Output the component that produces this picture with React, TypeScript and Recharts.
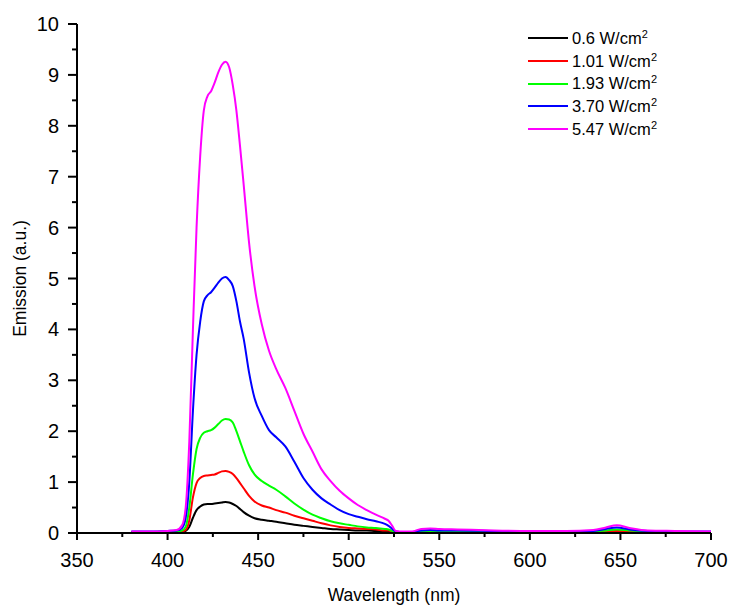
import { LineChart, Line, XAxis, YAxis, Legend } from "recharts";

const wavelengths = [
  380, 390, 400, 405, 408, 410, 412, 414, 416, 418, 420, 422, 424, 426, 428, 430, 432, 434, 436, 438,
  440, 442, 445, 448, 452, 456, 460, 465, 470, 475, 480, 485, 490, 495, 500, 505, 510, 515, 520, 522,
  524, 526, 528, 535, 540, 545, 550, 560, 580, 600, 620, 635, 642, 648, 655, 665, 680, 700,
];

const p060 = [
  0.01, 0.01, 0.02, 0.02, 0.02, 0.04, 0.12, 0.3, 0.45, 0.52, 0.56, 0.57, 0.57, 0.58, 0.59, 0.6, 0.61, 0.6, 0.57, 0.53,
  0.47, 0.41, 0.34, 0.29, 0.26, 0.24, 0.22, 0.19, 0.16, 0.14, 0.12, 0.1, 0.08, 0.07, 0.06, 0.05, 0.05, 0.04, 0.04, 0.03,
  0.02, 0.01, 0.01, 0.01, 0.02, 0.02, 0.02, 0.02, 0.01, 0.01, 0.01, 0.01, 0.02, 0.03, 0.02, 0.01, 0.01, 0.01,
];
const p101 = [
  0.02, 0.02, 0.02, 0.02, 0.03, 0.06, 0.25, 0.7, 0.98, 1.08, 1.12, 1.13, 1.14, 1.15, 1.18, 1.21, 1.22, 1.2, 1.16, 1.08,
  0.98, 0.88, 0.73, 0.62, 0.54, 0.5, 0.45, 0.4, 0.34, 0.29, 0.24, 0.19, 0.15, 0.12, 0.1, 0.09, 0.08, 0.07, 0.05, 0.05,
  0.03, 0.02, 0.02, 0.02, 0.02, 0.03, 0.02, 0.02, 0.02, 0.02, 0.02, 0.02, 0.03, 0.04, 0.03, 0.02, 0.02, 0.02,
];
const p193 = [
  0.02, 0.02, 0.03, 0.03, 0.05, 0.12, 0.5, 1.15, 1.65, 1.87, 1.97, 2.0, 2.02, 2.07, 2.14, 2.21, 2.24, 2.23, 2.17, 2.0,
  1.8, 1.6, 1.33, 1.15, 1.02, 0.93, 0.85, 0.72, 0.58, 0.46, 0.36, 0.29, 0.23, 0.19, 0.16, 0.13, 0.11, 0.1, 0.08, 0.07,
  0.04, 0.02, 0.02, 0.02, 0.03, 0.04, 0.03, 0.03, 0.03, 0.02, 0.02, 0.03, 0.05, 0.07, 0.05, 0.03, 0.02, 0.02,
];
const p370 = [
  0.03, 0.03, 0.04, 0.05, 0.1, 0.3, 1.0, 2.4, 3.5, 4.15, 4.55, 4.67, 4.73, 4.82, 4.92, 5.0, 5.03, 4.97, 4.85, 4.55,
  4.15, 3.82, 3.15, 2.65, 2.3, 2.02, 1.88, 1.7, 1.4, 1.08, 0.85, 0.68, 0.56, 0.45, 0.37, 0.32, 0.27, 0.23, 0.18, 0.14,
  0.08, 0.03, 0.02, 0.02, 0.05, 0.06, 0.05, 0.05, 0.04, 0.03, 0.03, 0.04, 0.08, 0.11, 0.07, 0.04, 0.03, 0.03,
];
const p547 = [
  0.03, 0.03, 0.04, 0.06, 0.15, 0.5, 1.8, 4.0, 6.0, 7.4, 8.3, 8.58, 8.68, 8.85, 9.05, 9.2, 9.26, 9.15, 8.8, 8.3,
  7.6, 6.85, 5.7, 4.85, 4.1, 3.58, 3.22, 2.85, 2.4, 1.95, 1.6, 1.25, 1.02, 0.83, 0.68, 0.55, 0.45, 0.36, 0.28, 0.24,
  0.14, 0.04, 0.03, 0.03, 0.08, 0.09, 0.08, 0.07, 0.05, 0.04, 0.04, 0.06, 0.11, 0.15, 0.1, 0.05, 0.04, 0.03,
];

const seriesLabels = ["0.6", "1.01", "1.93", "3.70", "5.47"];
const seriesColors = ["#000000", "#ff0000", "#00ff00", "#0000ff", "#ff00ff"];
const seriesValues = [p060, p101, p193, p370, p547];

const xTicks = [350, 375, 400, 425, 450, 475, 500, 525, 550, 575, 600, 625, 650, 675, 700];
const yTicks = [0, 0.5, 1, 1.5, 2, 2.5, 3, 3.5, 4, 4.5, 5, 5.5, 6, 6.5, 7, 7.5, 8, 8.5, 9, 9.5, 10];

const data = wavelengths.map((w, i) => {
  const row: Record<string, number> = { w };
  seriesLabels.forEach((s, k) => {
    row[s] = seriesValues[k][i];
  });
  return row;
});

const font = "'Liberation Sans', Arial, sans-serif";

function XTick(props: any) {
  const { x, y, payload } = props;
  const major = payload.value % 50 === 0;
  return (
    <g>
      <line x1={x} x2={x} y1={y} y2={y + (major ? 7 : 4)} stroke="#000" strokeWidth={2} />
      {major && (
        <text x={x} y={y + 34} textAnchor="middle" fontSize={20} fontFamily={font} fill="#000">
          {payload.value}
        </text>
      )}
    </g>
  );
}

function YTick(props: any) {
  const { x, y, payload } = props;
  const major = payload.value % 1 === 0;
  return (
    <g>
      <line x1={x} x2={x - (major ? 9 : 5)} y1={y} y2={y} stroke="#000" strokeWidth={2} />
      {major && (
        <text x={x - 18} y={y + 7} textAnchor="end" fontSize={20} fontFamily={font} fill="#000">
          {payload.value}
        </text>
      )}
    </g>
  );
}

function LegendBox() {
  return (
    <div style={{ fontFamily: font, fontSize: 16.5, color: "#000" }}>
      {seriesLabels.map((s, k) => (
        <div key={s} style={{ display: "flex", alignItems: "center", height: 22.7 }}>
          <svg width={40} height={4} style={{ marginRight: 4 }}>
            <line x1={0} x2={40} y1={2} y2={2} stroke={seriesColors[k]} strokeWidth={2} />
          </svg>
          <span>
            {s} W/cm<sup style={{ fontSize: 11, verticalAlign: "6px", lineHeight: 0 }}>2</sup>
          </span>
        </div>
      ))}
    </div>
  );
}

export default function App() {
  return (
    <div style={{ position: "absolute", left: 0, top: 0, width: 732, height: 606, background: "#fff" }}>
      <LineChart width={732} height={606} data={data} margin={{ top: 24, right: 21, bottom: 43, left: 17 }}>
        <XAxis
          dataKey="w"
          type="number"
          domain={[350, 700]}
          ticks={xTicks}
          interval={0}
          height={30}
          tickSize={0}
          tickMargin={0}
          tickLine={false}
          axisLine={{ stroke: "#000", strokeWidth: 2 }}
          tick={<XTick />}
          label={{
            value: "Wavelength (nm)",
            position: "bottom",
            offset: 26,
            style: { fontFamily: font, fontSize: 17.5, fill: "#000" },
          }}
        />
        <YAxis
          type="number"
          domain={[0, 10]}
          ticks={yTicks}
          interval={0}
          width={60}
          tickSize={0}
          tickMargin={0}
          tickLine={false}
          axisLine={{ stroke: "#000", strokeWidth: 2 }}
          tick={<YTick />}
          label={{
            value: "Emission (a.u.)",
            angle: -90,
            position: "insideLeft",
            offset: 3,
            style: { fontFamily: font, fontSize: 17.5, fill: "#000", textAnchor: "middle" },
          }}
        />
        <Legend
          layout="vertical"
          verticalAlign="middle"
          align="center"
          content={<LegendBox />}
          wrapperStyle={{ top: 27, left: 528, width: 200 }}
        />
        {seriesLabels.map((s, k) => (
          <Line
            key={s}
            dataKey={s}
            type="monotone"
            stroke={seriesColors[k]}
            strokeWidth={2}
            dot={false}
            isAnimationActive={false}
          />
        ))}
      </LineChart>
    </div>
  );
}
